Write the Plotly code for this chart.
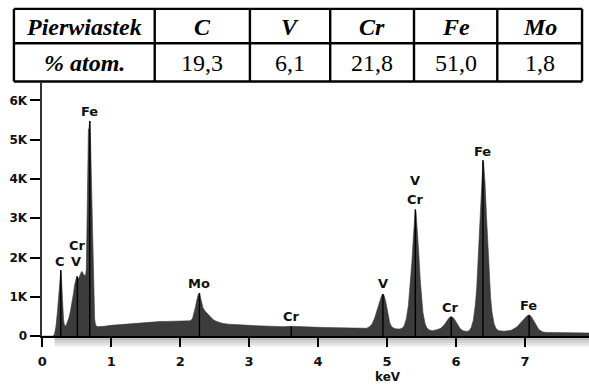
import plotly.graph_objects as go

# ---- composition table ----
elements = ["C", "V", "Cr", "Fe", "Mo"]
atom_percent = ["19,3", "6,1", "21,8", "51,0", "1,8"]

# ---- EDS spectrum (energy in keV, counts) ----
energy_kev = [
    0.00, 0.16, 0.18, 0.20, 0.22, 0.24, 0.25, 0.26, 0.27, 0.28, 0.29, 0.30,
    0.31, 0.32, 0.33, 0.35, 0.37, 0.39, 0.41, 0.43, 0.45, 0.47, 0.49, 0.50,
    0.51, 0.52, 0.53, 0.54, 0.55, 0.56, 0.57, 0.58, 0.59, 0.60, 0.61, 0.62,
    0.63, 0.64, 0.65, 0.66, 0.67, 0.68, 0.69, 0.70, 0.71, 0.72, 0.73, 0.74,
    0.75, 0.76, 0.77, 0.78, 0.80, 0.85, 0.90, 1.00, 1.10, 1.20, 1.30, 1.40,
    1.50, 1.60, 1.70, 1.80, 1.90, 2.00, 2.10, 2.15, 2.18, 2.20, 2.22, 2.24,
    2.26, 2.28, 2.29, 2.31, 2.33, 2.36, 2.40, 2.44, 2.48, 2.52, 2.56, 2.61,
    2.70, 2.80, 2.90, 3.00, 3.10, 3.20, 3.30, 3.40, 3.50, 3.61, 3.70, 3.80,
    3.90, 4.00, 4.10, 4.20, 4.30, 4.40, 4.50, 4.60, 4.70, 4.74, 4.78, 4.82,
    4.86, 4.89, 4.92, 4.94, 4.96, 4.98, 5.00, 5.02, 5.04, 5.07, 5.12, 5.18,
    5.22, 5.25, 5.28, 5.31, 5.34, 5.36, 5.38, 5.40, 5.41, 5.42, 5.44, 5.46,
    5.48, 5.50, 5.52, 5.55, 5.58, 5.62, 5.66, 5.72, 5.78, 5.83, 5.87, 5.90,
    5.93, 5.96, 5.99, 6.02, 6.06, 6.10, 6.15, 6.19, 6.22, 6.25, 6.28, 6.30,
    6.32, 6.34, 6.36, 6.38, 6.39, 6.40, 6.42, 6.44, 6.46, 6.48, 6.50, 6.52,
    6.55, 6.58, 6.62, 6.70, 6.80, 6.88, 6.94, 6.99, 7.03, 7.06, 7.09, 7.12,
    7.16, 7.20, 7.25, 7.30, 7.40, 7.50, 7.60, 7.70, 7.80, 7.95,
]
counts = [
    0, 0, 60, 250, 600, 1000, 1250, 1500, 1680, 1450, 1000, 650,
    420, 300, 260, 280, 360, 480, 640, 820, 1050, 1300, 1480, 1520,
    1515, 1470, 1450, 1520, 1580, 1620, 1640, 1640, 1610, 1570, 1540, 1560,
    1550, 1700, 3490, 3500, 5250, 5300, 5475, 5060, 4150, 3300, 2500, 1500,
    800, 450, 320, 270, 240, 240, 250, 275, 290, 300, 325, 340,
    355, 365, 370, 375, 375, 375, 380, 390, 450, 560, 730, 900,
    1050, 1100, 1020, 850, 730, 640, 560, 480, 420, 380, 350, 325,
    305, 290, 283, 275, 265, 258, 252, 245, 240, 250, 240, 238,
    232, 225, 220, 215, 208, 203, 198, 195, 200, 230, 300, 460,
    700, 880, 1030, 1075, 1020, 880, 680, 480, 330, 230, 185, 180,
    200, 270, 450, 800, 1400, 1900, 2500, 3050, 3225, 3150, 2700, 2100,
    1450, 950, 600, 320, 200, 150, 140, 160, 200, 290, 400, 470,
    495, 470, 390, 290, 190, 140, 120, 140, 220, 400, 800, 1250,
    1900, 2600, 3400, 4150, 4475, 4400, 3900, 3100, 2300, 1550, 1000, 620,
    320, 190, 140, 125, 150, 230, 340, 440, 520, 540, 500, 410,
    280, 170, 110, 95, 90, 90, 85, 85, 80, 80,
]

# ---- identified lines (energy, label text, label energy, label height) ----
line_energy = [0.27, 0.51, 0.69, 2.28, 3.61, 4.94, 5.41, 5.93, 6.39, 7.06]
peak_labels = [
    ("C", 0.26, 1890), ("V", 0.49, 1890), ("Cr", 0.51, 2310),
    ("Fe", 0.68, 5720), ("Mo", 2.28, 1350), ("Cr", 3.61, 500),
    ("V", 4.94, 1350), ("V", 5.41, 3960), ("Cr", 5.41, 3475),
    ("Cr", 5.92, 735), ("Fe", 6.39, 4710), ("Fe", 7.05, 785),
]

y_ticks = [0, 1000, 2000, 3000, 4000, 5000, 6000]
y_tick_text = ["0", "1K", "2K", "3K", "4K", "5K", "6K"]
x_ticks = [0, 1, 2, 3, 4, 5, 6, 7]

W, H = 589, 388
X0_PX, PX_PER_KEV = 37.5, 69.57
BASE_PX, TOP_PX, PX_PER_COUNT = 342.3, 85.0, 0.040


def px(x):
    return x / W


def py(y):
    return 1 - y / H


fig = go.Figure()

fig.add_trace(go.Scatter(
    x=energy_kev, y=counts, mode="lines",
    line=dict(color="#383838", width=0.6),
    fill="tozeroy", fillcolor="#3c3c3c",
    hoverinfo="skip", showlegend=False,
))

# element marker lines, drawn up to the spectrum height
height_at = dict(zip(energy_kev, counts))
lx, ly = [], []
for e in line_energy:
    lx += [e, e, None]
    ly += [0, height_at[e], None]
fig.add_trace(go.Scatter(
    x=lx, y=ly, mode="lines", line=dict(color="#000000", width=1.4),
    hoverinfo="skip", showlegend=False,
))

sans = "DejaVu Sans"
serif = "Liberation Serif"
annotations = []
for text, xe, yc in peak_labels:
    annotations.append(dict(
        x=xe, y=yc, xref="x", yref="y", text=text, showarrow=False,
        font=dict(family=sans, size=13, color="#111111", weight="bold"),
        xanchor="center", yanchor="middle",
    ))

annotations.append(dict(
    x=px(386), y=py(384), xref="paper", yref="paper", text="keV",
    showarrow=False, xanchor="center", yanchor="middle",
    font=dict(family=sans, size=12, color="#111111", weight="bold"),
))

# table text
col_edges = [9, 151, 247, 328, 412.5, 496.5, 582]
row_edges = [9, 44, 83]
centers = [(col_edges[i] + col_edges[i + 1]) / 2 for i in range(6)]
r1 = (row_edges[0] + row_edges[1]) / 2 + 1
r2 = (row_edges[1] + row_edges[2]) / 2 + 1
header = ["Pierwiastek"] + elements
row = ["% atom."] + atom_percent
for i in range(6):
    annotations.append(dict(
        x=px(centers[i]), y=py(r1), xref="paper", yref="paper",
        text="<b><i>%s</i></b>" % header[i], showarrow=False,
        xanchor="center", yanchor="middle",
        font=dict(family=serif, size=24, color="#000000"),
    ))
    txt = "<b><i>%s</i></b>" % row[i] if i == 0 else row[i]
    annotations.append(dict(
        x=px(centers[i]), y=py(r2), xref="paper", yref="paper",
        text=txt, showarrow=False, xanchor="center", yanchor="middle",
        font=dict(family=serif, size=24, color="#000000"),
    ))

shapes = []
# shaded band under the baseline
band = ["#a9a9a9", "#b8b8b8", "#c6c6c6", "#d3d3d3", "#e0e0e0", "#ededed"]
for k, c in enumerate(band):
    shapes.append(dict(
        type="rect", xref="paper", yref="paper", layer="below",
        x0=px(50), x1=px(589), y0=py(343 + 1.7 * (k + 1)), y1=py(343 + 1.7 * k),
        fillcolor=c, line=dict(width=0),
    ))
# table grid
tline = dict(color="#000000", width=2.4)
for yv in row_edges:
    shapes.append(dict(type="line", xref="paper", yref="paper",
                       x0=px(col_edges[0]), x1=px(col_edges[-1]),
                       y0=py(yv), y1=py(yv), line=tline))
for xv in col_edges:
    shapes.append(dict(type="line", xref="paper", yref="paper",
                       x0=px(xv), x1=px(xv),
                       y0=py(row_edges[0]), y1=py(row_edges[-1]), line=tline))

x_max = (W - X0_PX) / PX_PER_KEV
y_max = (BASE_PX - TOP_PX) / PX_PER_COUNT

fig.update_layout(
    width=W, height=H, margin=dict(l=0, r=0, t=0, b=0),
    paper_bgcolor="white", plot_bgcolor="white",
    annotations=annotations, shapes=shapes,
    xaxis=dict(
        domain=[X0_PX / W, 1], range=[0, x_max],
        tickvals=x_ticks, ticks="outside", ticklen=9, tickwidth=1.5,
        tickcolor="#000000", showline=True, linecolor="#000000", linewidth=2,
        showgrid=False, zeroline=False,
        tickfont=dict(family=sans, size=13, color="#111111", weight="bold"),
        ticklabelstandoff=3,
    ),
    yaxis=dict(
        domain=[1 - BASE_PX / H, 1 - TOP_PX / H], range=[0, y_max],
        tickvals=y_ticks, ticktext=y_tick_text, ticks="outside", ticklen=10,
        tickwidth=1.5, tickcolor="#000000", showline=True,
        linecolor="#333333", linewidth=1.5, showgrid=False, zeroline=False,
        tickfont=dict(family=sans, size=12, color="#111111", weight="bold"),
        ticklabelstandoff=1,
    ),
)

fig.write_html("out.html")
